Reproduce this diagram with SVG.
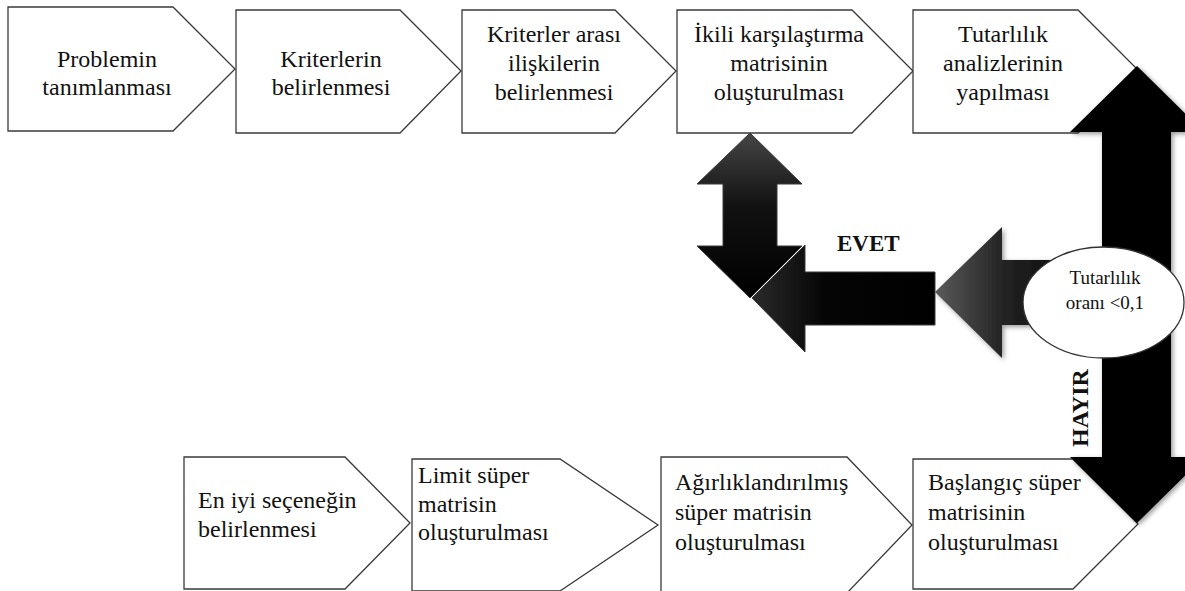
<svg xmlns="http://www.w3.org/2000/svg" width="1185" height="591" viewBox="0 0 1185 591">
<style>
.box{fill:#fff;stroke:#3a3a3a;stroke-width:1.3}
.t{font-family:"Liberation Serif","Times New Roman",serif;font-size:24px;fill:#111}
.c{text-anchor:middle}
.e{font-size:19px}
.lbl{font-family:"Liberation Serif","Times New Roman",serif;font-weight:bold;fill:#111}
.arr{stroke:#3a3a3a;stroke-width:1}
</style>
<defs>
<linearGradient id="gV" x1="0" y1="0" x2="0" y2="1">
<stop offset="0" stop-color="#454545"/>
<stop offset="0.45" stop-color="#111"/>
<stop offset="1" stop-color="#000"/>
</linearGradient>
<linearGradient id="gL" x1="0" y1="0" x2="1" y2="0">
<stop offset="0" stop-color="#2a2a2a"/>
<stop offset="0.4" stop-color="#050505"/>
<stop offset="1" stop-color="#000"/>
</linearGradient>
<linearGradient id="gM" x1="0" y1="0" x2="1" y2="0">
<stop offset="0" stop-color="#5a5a5a"/>
<stop offset="0.4" stop-color="#222"/>
<stop offset="1" stop-color="#000"/>
</linearGradient>
<filter id="sh" x="-20%" y="-20%" width="140%" height="140%">
<feDropShadow dx="2" dy="2" stdDeviation="2.5" flood-color="#000" flood-opacity="0.4"/>
</filter>
</defs>

<g id="n1"><path class="box" d="M8,7 H173 L235,69 L173,131 H8 Z"/>
<text class="t c" x="107" y="67">Problemin</text><text class="t c" x="107" y="95">tanımlanması</text></g>
<g id="n2"><path class="box" d="M236,10 H400 L461,71 L400,133 H236 Z"/>
<text class="t c" x="331" y="67">Kriterlerin</text><text class="t c" x="331" y="95">belirlenmesi</text></g>
<g id="n3"><path class="box" d="M462,10 H615 L676,71 L615,133 H462 Z"/>
<text class="t c" x="554" y="42">Kriterler arası</text><text class="t c" x="554" y="71">ilişkilerin</text><text class="t c" x="554" y="100">belirlenmesi</text></g>
<g id="n4"><path class="box" d="M677,10 H852 L913,71 L852,133 H677 Z"/>
<text class="t c" x="779" y="42">İkili karşılaştırma</text><text class="t c" x="779" y="71">matrisinin</text><text class="t c" x="779" y="100">oluşturulması</text></g>
<g id="n5"><path class="box" d="M913,10 H1078 L1139,71 L1078,133 H913 Z"/>
<text class="t c" x="1003" y="42">Tutarlılık</text><text class="t c" x="1003" y="71">analizlerinin</text><text class="t c" x="1003" y="100">yapılması</text></g>

<g id="n6"><path class="box" d="M184,457 H345 L410,523 L345,589 H184 Z"/>
<text class="t" x="198" y="508">En iyi seçeneğin</text><text class="t" x="198" y="537">belirlenmesi</text></g>
<g id="n7"><path class="box" d="M412,459 H560 L658,525 L560,591 H412 Z"/>
<text class="t" x="418" y="483">Limit süper</text><text class="t" x="418" y="512">matrisin</text><text class="t" x="418" y="540">oluşturulması</text></g>
<g id="n8"><path class="box" d="M661,457 H847 L912,525 L847,593 H661 Z"/>
<text class="t" x="675" y="490">Ağırlıklandırılmış</text><text class="t" x="675" y="520">süper matrisin</text><text class="t" x="675" y="550">oluşturulması</text></g>
<g id="n9"><path class="box" d="M913,459 H1073 L1138,524 L1073,589 H913 Z"/>
<text class="t" x="928" y="490">Başlangıç süper</text><text class="t" x="928" y="520">matrisinin</text><text class="t" x="928" y="550">oluşturulması</text></g>

<g id="connectors">
<path fill="url(#gM)" filter="url(#sh)" d="M935,292 L1002,227 L1002,260 L1110,260 L1110,325 L1002,325 L1002,358 Z"/>
<path fill="#000" filter="url(#sh)" d="M1137,66 L1204,132 L1171,132 L1171,457 L1204,457 L1137,523 L1070,457 L1102,457 L1102,132 L1070,132 Z"/>
<path class="arr" fill="url(#gV)" d="M750,133 L802,184 L777,184 L777,246 L802,246 L750,298 L697,246 L723,246 L723,184 L697,184 Z"/>
<path class="arr" fill="url(#gL)" d="M752,298 L805,245 L805,272 L935,272 L935,325 L805,325 L805,352 Z"/>
<text class="lbl" x="837" y="251" font-size="23">EVET</text>
<text class="lbl" font-size="24" transform="translate(1088,447) rotate(-90)">HAYIR</text>
</g>

<g id="n10"><ellipse cx="1103.5" cy="302.5" rx="80.5" ry="55.5" fill="#fff" stroke="#333" stroke-width="1.3"/>
<text class="t c e" x="1105" y="284">Tutarlılık</text><text class="t c e" x="1105" y="309">oranı &lt;0,1</text></g>
</svg>
